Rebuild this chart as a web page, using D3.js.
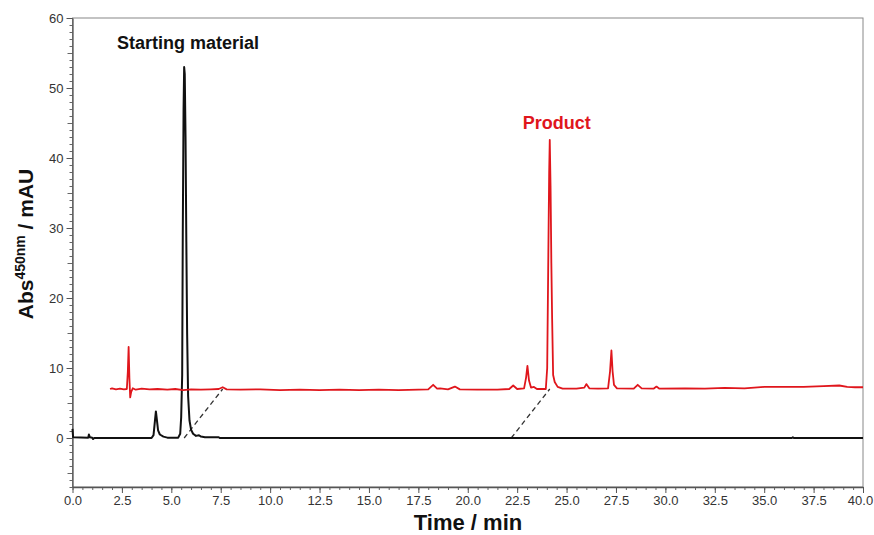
<!DOCTYPE html>
<html>
<head>
<meta charset="utf-8">
<script src="https://cdn.jsdelivr.net/npm/d3@7"></script>
<style>
  body { margin: 0; background: #fff; }
  svg { display: block; font-family: "Liberation Sans", Arial, sans-serif; }
</style>
</head>
<body>
<div id="chart"></div>
<script>
// Trazas del cromatograma: [tiempo (min), absorbancia (mAU)]
const startingMaterial = [
  [0, 1.3], [0.03, 0.1], [0.8, 0.05], [0.83, 0.5], [0.88, 0.1], [1.0, 0.05], [1.04, -0.15], [1.1, 0],
  [4.0, 0], [4.1, 0.4], [4.17, 2.4], [4.22, 3.8], [4.27, 2.6], [4.33, 1.1], [4.42, 0.5],
  [4.6, 0.2], [4.8, 0.05], [5.35, 0.05], [5.45, 0.6], [5.5, 3], [5.55, 9], [5.58, 29],
  [5.62, 47], [5.65, 53], [5.68, 52], [5.72, 43], [5.76, 28], [5.8, 15], [5.85, 6],
  [5.92, 2.5], [6.0, 1.2], [6.1, 0.6], [6.25, 0.3], [6.4, 0.4], [6.5, 0.2], [6.7, 0.1],
  [7.4, 0.1], [7.45, 0], [36.4, 0], [36.45, 0.1], [36.5, 0], [40, 0]
];

const product = [
  [1.9, 7.0], [2.0, 7.1], [2.2, 6.95], [2.4, 7.05], [2.6, 6.95], [2.75, 7.0], [2.8, 9.5],
  [2.84, 13.0], [2.88, 8.5], [2.92, 5.8], [2.97, 6.6], [3.05, 7.1], [3.2, 6.9], [3.5, 7.05],
  [3.9, 6.95], [4.3, 7.0], [4.8, 6.9], [5.2, 7.0], [5.6, 6.85], [6.0, 6.95], [6.5, 6.9],
  [7.0, 6.95], [7.4, 7.0], [7.6, 7.25], [7.8, 6.95], [8.5, 6.9], [9.5, 6.95], [10.5, 6.85],
  [11.5, 6.9], [12.5, 6.85], [13.5, 6.9], [14.5, 6.85], [15.5, 6.9], [16.5, 6.85],
  [17.5, 6.9], [18.0, 6.95], [18.25, 7.6], [18.45, 7.05], [18.6, 7.1], [19.0, 6.95],
  [19.35, 7.35], [19.6, 6.95], [20.5, 6.9], [21.5, 6.9], [22.1, 7.0], [22.3, 7.5],
  [22.5, 7.0], [22.85, 7.1], [22.95, 8.6], [23.02, 10.3], [23.1, 8.2], [23.2, 7.2],
  [23.35, 7.3], [23.5, 7.0], [23.95, 7.0], [24.02, 10], [24.07, 24], [24.12, 38],
  [24.15, 42.6], [24.19, 36], [24.23, 25], [24.27, 17], [24.32, 9], [24.4, 8.0],
  [24.55, 7.3], [24.8, 7.05], [25.5, 7.05], [25.9, 7.2], [26.0, 7.7], [26.15, 7.1],
  [26.6, 7.05], [27.1, 7.1], [27.2, 9.5], [27.27, 12.5], [27.33, 9.5], [27.4, 7.6],
  [27.55, 7.1], [28.4, 7.05], [28.6, 7.6], [28.8, 7.1], [29.4, 7.05], [29.55, 7.35],
  [29.7, 7.05], [31, 7.1], [32, 7.05], [33, 7.15], [34, 7.1], [35, 7.3], [36, 7.3],
  [37, 7.3], [38, 7.4], [38.8, 7.5], [39.2, 7.3], [39.6, 7.25], [40, 7.25]
];

const dashedLinks = [
  [[5.65, 0], [7.6, 7.0]],
  [[22.2, 0], [24.15, 7.0]]
];

const peakLabels = [
  { text: "Starting material", t: 5.85, v: 55.6, color: "#111" },
  { text: "Product", t: 24.5, v: 44.2, color: "#e0161c" }
];

const xTicks = d3.range(0, 40.01, 2.5);
const yTicks = [0, 10, 20, 30, 40, 50, 60];

const W = 874, H = 535;
const margin = { top: 18, right: 11, bottom: 48, left: 72.5 };
const width = W - margin.left - margin.right;
const height = H - margin.top - margin.bottom;

const svg = d3.select("#chart").append("svg")
  .attr("width", W)
  .attr("height", H);

const g = svg.append("g")
  .attr("transform", `translate(${margin.left},${margin.top})`);

const x = d3.scaleLinear().domain([0, 40]).range([0, width]);
const y = d3.scaleLinear().domain([-7, 60]).range([height, 0]);

// Marco
g.append("rect")
  .attr("width", width)
  .attr("height", height)
  .attr("fill", "none")
  .attr("stroke", "#888")
  .attr("stroke-width", 1);

// Ticks menores
g.append("g")
  .attr("transform", `translate(0,${height})`)
  .call(d3.axisBottom(x).tickValues(d3.range(0, 40.01, 0.5)).tickSize(3).tickFormat(""))
  .call(a => a.select(".domain").remove())
  .selectAll("line").attr("stroke", "#666");

g.append("g")
  .call(d3.axisLeft(y).tickValues(d3.range(-7, 60.01, 1)).tickSize(3).tickFormat(""))
  .call(a => a.select(".domain").remove())
  .selectAll("line").attr("stroke", "#666");

g.append("g")
  .call(d3.axisLeft(y).tickValues([-5, 5, 15, 25, 35, 45, 55]).tickSize(5).tickFormat(""))
  .call(a => a.select(".domain").remove())
  .selectAll("line").attr("stroke", "#666");

// Ejes
const xAxis = g.append("g")
  .attr("transform", `translate(0,${height})`)
  .call(d3.axisBottom(x).tickValues(xTicks).tickSize(6).tickPadding(3).tickFormat(d3.format(".1f")).tickSizeOuter(0));
const yAxis = g.append("g")
  .call(d3.axisLeft(y).tickValues(yTicks).tickSize(6).tickPadding(3).tickSizeOuter(0));

[xAxis, yAxis].forEach(a => {
  a.select(".domain").attr("stroke", "#555").attr("stroke-width", 1.3);
  a.selectAll("line").attr("stroke", "#555");
  a.selectAll("text")
    .attr("fill", "#333")
    .style("font-size", "13px")
    .style("font-family", "Liberation Sans, Arial, sans-serif");
});
// la ultima etiqueta se alinea para no salirse del borde
xAxis.selectAll(".tick text").filter(d => d === 40).attr("dx", -3);

const line = d3.line()
  .x(d => x(d[0]))
  .y(d => y(d[1]));

// Lineas discontinuas
g.selectAll(".link")
  .data(dashedLinks)
  .enter().append("path")
  .attr("class", "link")
  .attr("d", line)
  .attr("fill", "none")
  .attr("stroke", "#333")
  .attr("stroke-width", 1.3)
  .attr("stroke-dasharray", "5,3.5");

// Trazas
g.append("path")
  .datum(startingMaterial)
  .attr("d", line)
  .attr("fill", "none")
  .attr("stroke", "#111")
  .attr("stroke-width", 2)
  .attr("stroke-linejoin", "round");

g.append("path")
  .datum(product)
  .attr("d", line)
  .attr("fill", "none")
  .attr("stroke", "#e0161c")
  .attr("stroke-width", 1.8)
  .attr("stroke-linejoin", "round");

// Etiquetas de picos
g.selectAll(".peak-label")
  .data(peakLabels)
  .enter().append("text")
  .attr("class", "peak-label")
  .attr("x", d => x(d.t))
  .attr("y", d => y(d.v))
  .attr("text-anchor", "middle")
  .attr("fill", d => d.color)
  .style("font-size", "18px")
  .style("font-weight", "bold")
  .text(d => d.text);

// Titulos de ejes
svg.append("text")
  .attr("x", 468)
  .attr("y", 530)
  .attr("text-anchor", "middle")
  .style("font-size", "22px")
  .style("font-weight", "bold")
  .attr("fill", "#111")
  .text("Time / min");

const yTitle = svg.append("text")
  .attr("transform", `translate(33,244) rotate(-90)`)
  .attr("text-anchor", "middle")
  .style("font-size", "21px")
  .style("font-weight", "bold")
  .attr("fill", "#111");
yTitle.append("tspan").text("Abs");
yTitle.append("tspan").attr("dy", -8).style("font-size", "14px").text("450nm");
yTitle.append("tspan").attr("dy", 8).text(" / mAU");
</script>
</body>
</html>
